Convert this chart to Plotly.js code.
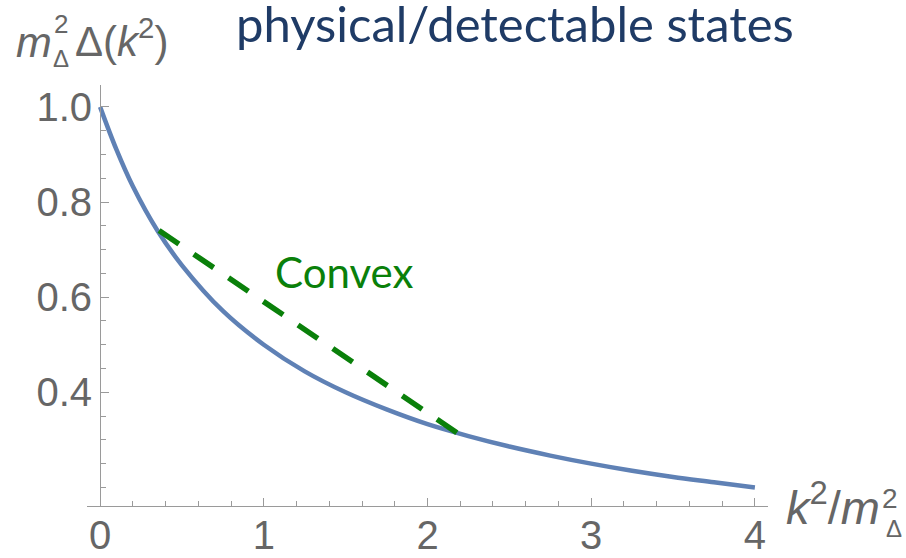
<!DOCTYPE html>
<html>
<head>
<meta charset="utf-8">
<script src="https://cdn.plot.ly/plotly-3.0.1.min.js"></script>
<style>
  html, body { margin: 0; padding: 0; background: #ffffff; }
  #chart { width: 906px; height: 558px; }
</style>
</head>
<body>
<div id="chart"></div>
<script>
// ---- data ----
const curveX = [0, 0.1, 0.2, 0.35, 0.5, 0.75, 1, 1.25, 1.5, 1.75, 2, 2.25, 2.5, 2.75, 3, 3.25, 3.5, 3.75, 4];
const curveY = [1.0, 0.91, 0.833, 0.74, 0.667, 0.571, 0.5, 0.444, 0.4, 0.364, 0.333, 0.308, 0.286, 0.267, 0.25, 0.235, 0.222, 0.211, 0.2];
const chordX = [0.36, 2.2];
const chordY = [0.74, 0.31];
const xTickVals = [0, 1, 2, 3, 4];
const xTickText = ['0', '1', '2', '3', '4'];
const yTickVals = [0.4, 0.6, 0.8, 1.0];
const yTickText = ['0.4', '0.6', '0.8', '1.0'];
const chartTitle = 'physical/detectable states';
const noteText = 'Convex';

// ---- layout geometry ----
const W = 906, H = 558;
const M = { l: 87, r: 138, t: 85, b: 52 };
const PW = W - M.l - M.r, PH = H - M.t - M.b;
const px = x => (x - M.l) / PW;          // pixel -> paper x
const py = y => (H - M.b - y) / PH;      // pixel -> paper y

const axisGrey = '#9a9a9a';
const labelGrey = '#666666';
const SANS = 'Liberation Sans';
const tickFont = { family: SANS, size: 40, color: labelGrey };

const traces = [
  {
    x: curveX, y: curveY, type: 'scatter', mode: 'lines',
    line: { color: '#5f81b5', width: 4.5, shape: 'spline', smoothing: 1.0 },
    hoverinfo: 'skip', showlegend: false
  },
  {
    x: chordX, y: chordY, type: 'scatter', mode: 'lines',
    line: { color: '#0a800a', width: 5.5, dash: '24px,18px' },
    hoverinfo: 'skip', showlegend: false
  }
];

function ann(text, x, y, size, color, family, xanchor) {
  return {
    text: text, xref: 'paper', yref: 'paper', x: px(x), y: py(y),
    xanchor: xanchor || 'left', yanchor: 'middle', showarrow: false,
    borderpad: 0,
    font: { family: family || SANS, size: size, color: color || labelGrey }
  };
}

const annotations = [
  // y-axis title  m^2_Δ Δ(k^2)
  ann('<i>m</i>', 15, 42, 43),
  ann('2', 53, 24, 26),
  ann('Δ', 52, 58, 24),
  ann('Δ(<i>k</i><sup>2</sup>)', 74, 38, 42),
  // x-axis title  k^2 / m^2_Δ
  ann('<i>k</i><sup>2</sup>/<i>m</i>', 785, 504, 47),
  ann('2', 881, 498, 28),
  ann('Δ', 885, 528, 24),
  // note
  ann(noteText, 274, 272, 42, '#0a800a', 'Lato')
];

const layout = {
  width: W, height: H,
  margin: M,
  paper_bgcolor: '#ffffff', plot_bgcolor: '#ffffff',
  showlegend: false,
  title: {
    text: chartTitle,
    font: { family: 'Lato', size: 49, color: '#1f3b66' },
    xref: 'paper', x: px(236), xanchor: 'left',
    yref: 'container', y: 1 - 25 / H, yanchor: 'middle'
  },
  xaxis: {
    range: [-0.08, 4.08],
    showgrid: false, zeroline: false,
    showline: true, linecolor: axisGrey, linewidth: 1.2,
    ticks: 'inside', ticklen: 8, tickwidth: 1, tickcolor: axisGrey,
    tickvals: xTickVals, ticktext: xTickText,
    tickfont: tickFont, ticklabelstandoff: -6,
    minor: { ticks: 'inside', dtick: 0.2, tick0: 0, ticklen: 5, tickcolor: axisGrey, showgrid: false },
    fixedrange: true
  },
  yaxis: {
    range: [0.161, 1.046],
    anchor: 'free', position: 0.08 / 4.16,
    showgrid: false, zeroline: false,
    showline: true, linecolor: axisGrey, linewidth: 1.2,
    ticks: 'inside', ticklen: 8, tickwidth: 1, tickcolor: axisGrey,
    tickvals: yTickVals, ticktext: yTickText,
    tickfont: tickFont,
    minor: { ticks: 'inside', dtick: 0.05, tick0: 0, ticklen: 5, tickcolor: axisGrey, showgrid: false },
    fixedrange: true
  },
  annotations: annotations
};

Plotly.newPlot('chart', traces, layout, { displayModeBar: false, staticPlot: true });
</script>
</body>
</html>
